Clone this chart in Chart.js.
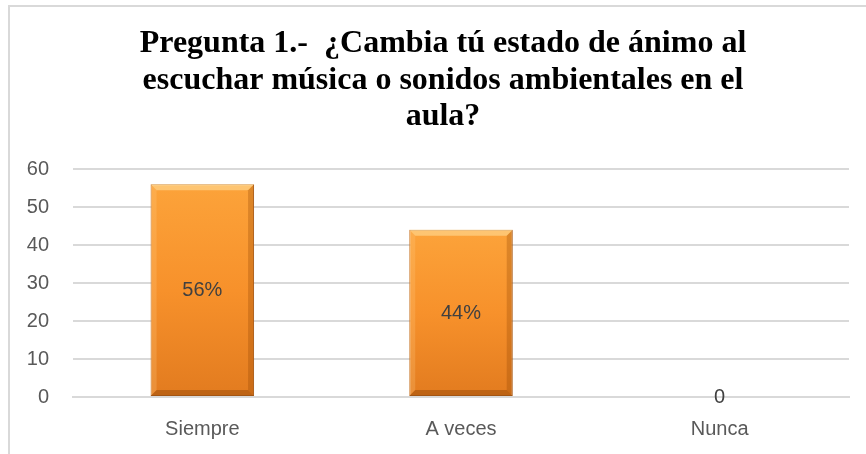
<!DOCTYPE html>
<html>
<head>
<meta charset="utf-8">
<script src="https://cdn.jsdelivr.net/npm/chart.js@4"></script>
<style>
  body { margin: 0; background: #fff; }
  #wrap { position: relative; width: 866px; height: 454px; }
  #frame {
    position: absolute; left: 8px; top: 5px; right: -10px; bottom: -10px;
    border-left: 2px solid #d9d9d9; border-top: 2px solid #d9d9d9;
    pointer-events: none;
  }
</style>
</head>
<body>
<div id="wrap">
  <canvas id="chart" width="866" height="454"></canvas>
  <div id="frame"></div>
</div>
<script>
// chart data
const categories = ['Siempre', 'A veces', 'Nunca'];
const values = [56, 44, 0];
const valueLabels = ['56%', '44%', '0'];
const yTicks = [0, 10, 20, 30, 40, 50, 60];
const titleLines = [
    'Pregunta 1.-  ¿Cambia tú estado de ánimo al',
    'escuchar música o sonidos ambientales en el',
    'aula?'
];

const tickFont = { family: "'Liberation Sans', Arial, sans-serif", size: 20 };

// vertical gradient per bar, light at top, darker at the base
function barFill(ctx) {
    const chart = ctx.chart;
    const y = chart.scales.y;
    if (!y || ctx.raw === undefined) return '#F7922E';
    const top = y.getPixelForValue(ctx.raw);
    const bottom = y.getPixelForValue(0);
    if (!isFinite(top) || bottom - top < 1) return '#F7922E';
    const g = chart.ctx.createLinearGradient(0, top, 0, bottom);
    g.addColorStop(0, '#FCA33A');
    g.addColorStop(0.5, '#F7912B');
    g.addColorStop(1, '#E27B1F');
    return g;
}

// soft bevel edges like the office chart style
const bevelPlugin = {
    id: 'bevel',
    afterDatasetsDraw(chart) {
        const c = chart.ctx;
        const b = 6;
        chart.getDatasetMeta(0).data.forEach(bar => {
            const x0 = bar.x - bar.width / 2, x1 = bar.x + bar.width / 2;
            const y0 = bar.y, y1 = bar.base;
            if (y1 - y0 < 2 * b) return;
            const quad = (pts, col) => {
                c.beginPath();
                c.moveTo(pts[0][0], pts[0][1]);
                for (let i = 1; i < pts.length; i++) c.lineTo(pts[i][0], pts[i][1]);
                c.closePath();
                c.fillStyle = col;
                c.fill();
            };
            c.save();
            quad([[x0, y0], [x1, y0], [x1 - b, y0 + b], [x0 + b, y0 + b]], 'rgba(255,225,160,0.55)');
            quad([[x0, y0], [x0 + b, y0 + b], [x0 + b, y1 - b], [x0, y1]], 'rgba(255,205,130,0.25)');
            quad([[x1, y0], [x1, y1], [x1 - b, y1 - b], [x1 - b, y0 + b]], 'rgba(140,65,0,0.28)');
            quad([[x0, y1], [x0 + b, y1 - b], [x1 - b, y1 - b], [x1, y1]], 'rgba(120,55,0,0.35)');
            c.restore();
        });
    }
};

// value labels: centre of bar, or on the baseline when the value is zero
const labelPlugin = {
    id: 'valueLabels',
    afterDatasetsDraw(chart) {
        const c = chart.ctx;
        const y = chart.scales.y;
        c.save();
        c.font = "20px 'Liberation Sans', Arial, sans-serif";
        c.fillStyle = '#404040';
        c.textAlign = 'center';
        c.textBaseline = 'middle';
        chart.getDatasetMeta(0).data.forEach((bar, i) => {
            const v = values[i];
            const py = v > 0 ? y.getPixelForValue(v / 2) : y.getPixelForValue(0);
            c.fillText(valueLabels[i], bar.x, py);
        });
        c.restore();
    }
};

// title drawn by hand so it can sit a little right of the canvas centre, like the original
const titlePlugin = {
    id: 'bigTitle',
    afterDraw(chart) {
        const c = chart.ctx;
        c.save();
        c.font = "bold 32px 'Liberation Serif', 'Times New Roman', serif";
        c.fillStyle = '#000';
        c.textAlign = 'center';
        c.textBaseline = 'middle';
        titleLines.forEach((line, i) => {
            c.fillText(line, 443, 44 + i * 36.5);
        });
        c.restore();
    }
};

new Chart(document.getElementById('chart'), {
    type: 'bar',
    data: {
        labels: categories,
        datasets: [{
            data: values,
            backgroundColor: barFill,
            borderColor: '#B9661E',
            borderWidth: 1,
            borderSkipped: false,
            barPercentage: 0.4,
            categoryPercentage: 1
        }]
    },
    options: {
        responsive: false,
        animation: false,
        layout: { padding: { left: 17, right: 17, top: 169, bottom: 0 } },
        plugins: {
            legend: { display: false },
            tooltip: { enabled: false },
            title: { display: false }
        },
        scales: {
            x: {
                grid: { display: false, drawTicks: false },
                border: { display: true, color: '#d9d9d9', width: 2 },
                ticks: { color: '#595959', font: tickFont, padding: 20 },
                afterFit(scale) { scale.height = 57; }
            },
            y: {
                min: 0,
                max: 60,
                afterBuildTicks(scale) { scale.ticks = yTicks.map(v => ({ value: v })); },
                grid: { color: '#d9d9d9', lineWidth: 2, drawTicks: false },
                border: { display: false },
                ticks: { color: '#595959', font: tickFont, padding: 24 },
                afterFit(scale) { scale.width = 56; }
            }
        }
    },
    plugins: [bevelPlugin, labelPlugin, titlePlugin]
});
</script>
</body>
</html>
